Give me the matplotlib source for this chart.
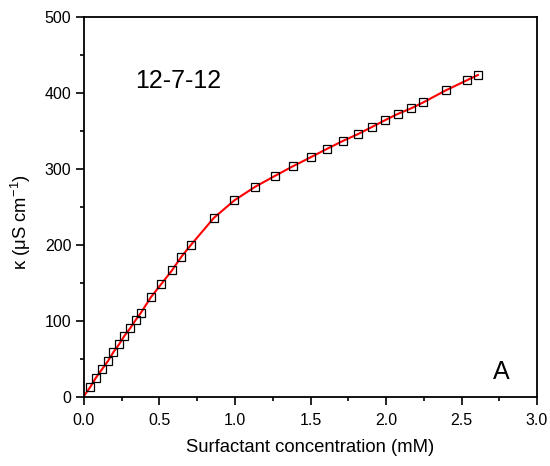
import matplotlib
matplotlib.use("Agg")
import matplotlib.pyplot as plt
from matplotlib.ticker import MultipleLocator

plt.rcParams['font.family'] = ['Liberation Sans', 'DejaVu Sans']
plt.rcParams['mathtext.fontset'] = 'custom'
plt.rcParams['mathtext.rm'] = 'Liberation Sans'
plt.rcParams['mathtext.it'] = 'Liberation Sans'

# data
conc_mM = [0.04, 0.079, 0.119, 0.159, 0.194, 0.232, 0.267, 0.307, 0.342, 0.377,
           0.444, 0.512, 0.583, 0.645, 0.706, 0.861, 0.996, 1.134, 1.267, 1.382,
           1.501, 1.607, 1.713, 1.815, 1.907, 1.996, 2.077, 2.166, 2.247, 2.397,
           2.539, 2.609]
kappa = [12.7, 25.4, 36.4, 47.4, 58.8, 69.3, 80.3, 90.8, 101.3, 110.9,
         131.6, 148.7, 166.7, 184.6, 199.6, 235.9, 258.8, 276.7, 291.2, 303.5,
         315.4, 326.3, 336.8, 346.0, 355.3, 364.5, 372.4, 379.8, 387.7, 403.6,
         417.1, 423.7]
fit_start_x = [0.0]
fit_start_y = [1.5]

fig = plt.figure(figsize=(5.5, 4.66), dpi=100)
ax = fig.add_axes([0.1527, 0.148, 0.8237, 0.8155])

ax.plot(fit_start_x + conc_mM, fit_start_y + kappa, color='red', lw=1.5, zorder=2)
ax.plot(conc_mM, kappa, linestyle='none', marker='s', markersize=5.8,
        markerfacecolor='none', markeredgecolor='black', markeredgewidth=0.9, zorder=3)

ax.set_xlim(0, 3.0)
ax.set_ylim(0, 500)
ax.xaxis.set_major_locator(MultipleLocator(0.5))
ax.xaxis.set_minor_locator(MultipleLocator(0.25))
ax.yaxis.set_major_locator(MultipleLocator(100))
ax.yaxis.set_minor_locator(MultipleLocator(50))
ax.xaxis.set_major_formatter(matplotlib.ticker.FormatStrFormatter('%.1f'))

for s in ax.spines.values():
    s.set_linewidth(1.3)
ax.tick_params(which='major', direction='out', length=5.5, width=1.2, labelsize=11.5,
               top=False, right=False, pad=3.5)
ax.tick_params(axis='x', which='major', pad=6)
ax.tick_params(which='minor', direction='out', length=3, width=1.2, top=False, right=False)

ax.set_xlabel('Surfactant concentration (mM)', fontsize=13.3, labelpad=8)
ax.set_ylabel('κ (μS cm$^{-1}$)', fontsize=13.3)
ax.yaxis.set_label_coords(-0.112, 0.46)

ax.text(0.338, 407, '12-7-12', fontsize=18, ha='left', va='baseline')
ax.text(2.709, 23.7, 'A', fontsize=18, ha='left', va='baseline')

fig.savefig('out.png', dpi=100)
